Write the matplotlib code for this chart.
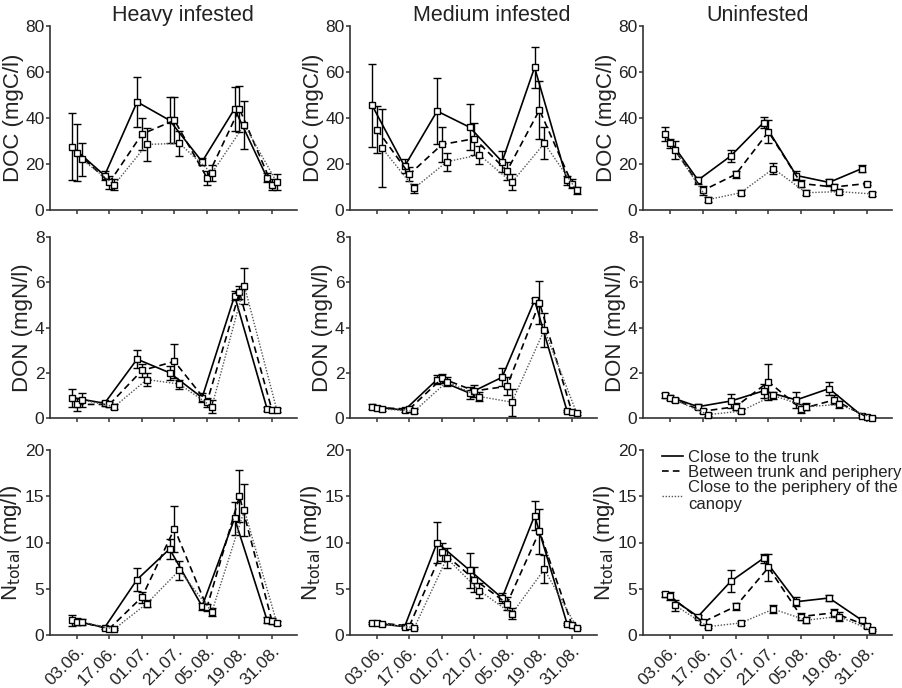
import numpy as np
import matplotlib.pyplot as plt
from matplotlib.lines import Line2D

plt.rcParams['font.family'] = ['Liberation Sans', 'DejaVu Sans']

dates = ["03.06.", "17.06.", "01.07.", "21.07.", "05.08.", "19.08.", "31.08."]
sites = ["Heavy infested", "Medium infested", "Uninfested"]
positions = ["Close to the trunk", "Between trunk and periphery",
             "Close to the periphery of the\ncanopy"]

# rows: trunk, between, periphery
heavy_doc = [[27.5, 15, 47, 39, 21, 44, 14],
             [25, 12, 33, 39, 14, 44, 11],
             [22, 11, 28.5, 29, 16, 37, 12]]
heavy_doc_err = [[14.5, 2, 11, 10, 1.5, 9.5, 2],
                 [12.5, 3, 7, 10, 3, 10, 2.5],
                 [7, 2.5, 7, 5.5, 3.5, 10.5, 3.5]]
medium_doc = [[45.5, 19, 43, 36, 21, 62, 13],
              [35, 15.5, 28.5, 31, 17, 43.5, 11.5],
              [27, 9.5, 21, 24, 12, 29, 8.5]]
medium_doc_err = [[18, 3, 14.5, 10, 4.5, 9, 2],
                  [10, 3, 7.5, 7, 4, 12.5, 2],
                  [17, 2, 4, 4, 3.5, 7, 1.5]]
unif_doc = [[33, 13, 23.5, 38, 15, 12, 18],
            [29, 8.5, 15.5, 34, 11.5, 10, 11.5],
            [26, 4.5, 7.5, 18, 7.5, 8, 7]]
unif_doc_err = [[3, 1.5, 2.5, 2.5, 2, 1.5, 1.5],
                [2, 2, 1.5, 5, 1.5, 1.5, 0.8],
                [4, 1, 1, 2.5, 1, 1, 0.8]]

heavy_don = [[0.9, 0.65, 2.6, 2.0, 0.9, 5.4, 0.4],
             [0.6, 0.6, 2.1, 2.5, 0.7, 5.55, 0.35],
             [0.8, 0.5, 1.7, 1.5, 0.5, 5.85, 0.35]]
heavy_don_err = [[0.4, 0.1, 0.4, 0.3, 0.2, 0.2, 0.1],
                 [0.3, 0.1, 0.3, 0.75, 0.2, 0.3, 0.1],
                 [0.3, 0.1, 0.3, 0.2, 0.3, 0.8, 0.1]]
medium_don = [[0.5, 0.35, 1.7, 1.1, 1.8, 5.2, 0.3],
              [0.45, 0.4, 1.75, 1.2, 1.4, 5.1, 0.25],
              [0.4, 0.3, 1.6, 0.95, 0.7, 3.9, 0.2]]
medium_don_err = [[0.1, 0.1, 0.2, 0.25, 0.4, 0.1, 0.05],
                  [0.1, 0.1, 0.2, 0.25, 0.4, 0.95, 0.05],
                  [0.1, 0.1, 0.2, 0.2, 0.6, 0.75, 0.05]]
unif_don = [[1.0, 0.5, 0.75, 1.2, 0.8, 1.3, 0.1],
            [0.9, 0.3, 0.5, 1.6, 0.4, 0.8, 0.05],
            [0.8, 0.15, 0.3, 1.0, 0.5, 0.6, 0.02]]
unif_don_err = [[0.1, 0.1, 0.3, 0.3, 0.35, 0.3, 0.05],
                [0.1, 0.1, 0.15, 0.8, 0.2, 0.2, 0.05],
                [0.1, 0.05, 0.1, 0.15, 0.15, 0.15, 0.02]]

heavy_nt = [[1.6, 0.8, 6.0, 9.3, 3.1, 12.6, 1.6],
            [1.45, 0.7, 4.1, 11.5, 3.0, 15.0, 1.5],
            [1.4, 0.65, 3.4, 7.0, 2.5, 13.5, 1.3]]
heavy_nt_err = [[0.6, 0.1, 1.2, 1.1, 0.4, 1.8, 0.3],
                [0.4, 0.1, 0.6, 2.5, 0.4, 2.8, 0.3],
                [0.3, 0.1, 0.4, 1.0, 0.4, 2.8, 0.2]]
medium_nt = [[1.3, 0.9, 10.0, 7.0, 4.0, 12.9, 1.2],
             [1.3, 1.0, 9.0, 6.0, 3.4, 11.2, 1.1],
             [1.2, 0.8, 8.3, 4.8, 2.3, 7.1, 0.8]]
medium_nt_err = [[0.15, 0.1, 2.2, 1.9, 0.5, 1.6, 0.1],
                 [0.15, 0.2, 1.0, 1.3, 0.7, 2.4, 0.1],
                 [0.1, 0.1, 1.1, 0.8, 0.6, 1.5, 0.1]]
unif_nt = [[4.4, 2.0, 5.8, 8.3, 3.6, 4.0, 1.6],
           [4.2, 1.4, 3.1, 7.3, 2.0, 2.4, 1.0],
           [3.2, 0.9, 1.3, 2.8, 1.6, 2.0, 0.5]]
unif_nt_err = [[0.3, 0.2, 1.2, 0.5, 0.5, 0.3, 0.2],
               [0.4, 0.2, 0.4, 1.5, 0.4, 0.4, 0.2],
               [0.6, 0.15, 0.2, 0.4, 0.3, 0.5, 0.1]]

panels = [[(heavy_doc, heavy_doc_err), (medium_doc, medium_doc_err), (unif_doc, unif_doc_err)],
          [(heavy_don, heavy_don_err), (medium_don, medium_don_err), (unif_don, unif_don_err)],
          [(heavy_nt, heavy_nt_err), (medium_nt, medium_nt_err), (unif_nt, unif_nt_err)]]
ylabels = ["DOC (mgC/l)", "DON (mgN/l)", r"N$_{\mathrm{total}}$ (mg/l)"]
yticks = [[0, 20, 40, 60, 80], [0, 2, 4, 6, 8], [0, 5, 10, 15, 20]]

styles = [dict(ls="-", color="black", lw=1.2),
          dict(ls=(0, (4, 2.5)), color="black", lw=1.2),
          dict(ls=(0, (1, 1.2)), color="#555555", lw=1.0)]
offsets = [-0.15, 0.0, 0.15]

W, H = 902, 688
col_l = [50, 350, 643]
col_r = [297, 597, 892]
row_t = [26, 237, 450]
row_b = [210, 418, 635]
title_x = [0.54, 0.575, 0.46]

fig = plt.figure(figsize=(W / 100, H / 100), dpi=100)
text_color = "#222222"

for r in range(3):
    for c in range(3):
        ax = fig.add_axes([col_l[c] / W, 1 - row_b[r] / H,
                           (col_r[c] - col_l[c]) / W, (row_b[r] - row_t[r]) / H])
        vals, errs = panels[r][c]
        x = np.arange(len(dates))
        for k in range(3):
            xs = x + offsets[k]
            ax.errorbar(xs, vals[k], yerr=errs[k], fmt="none", ecolor="black",
                        elinewidth=1.0, capsize=3, capthick=1.0, clip_on=False, zorder=2)
            ax.plot(xs, vals[k], marker="s", ms=5, mfc="white", mec="black",
                    mew=1.0, clip_on=False, zorder=3, **styles[k])
        ax.set_xlim(-0.83, 6.77)
        ax.set_ylim(0, yticks[r][-1])
        ax.set_yticks(yticks[r])
        ax.set_xticks(x)
        if r == 2:
            ax.set_xticklabels(dates, rotation=45, ha="right", va="top",
                               rotation_mode="anchor", fontsize=12, color=text_color)
        else:
            ax.set_xticklabels([])
        for s in ("top", "right"):
            ax.spines[s].set_visible(False)
        for s in ("left", "bottom"):
            ax.spines[s].set_linewidth(1.2)
            ax.spines[s].set_color("#333333")
        ax.tick_params(axis="both", direction="out", length=3, width=1.1,
                       colors="#333333", labelsize=12.5, labelcolor=text_color, pad=1)
        ax.tick_params(axis="x", pad=3)
        ax.set_ylabel(ylabels[r], fontsize=16, color=text_color, labelpad=1)
        if r == 0:
            ax.set_title(sites[c], fontsize=15.5, color=text_color, x=title_x[c], pad=2)
        if r == 2 and c == 2:
            handles = [Line2D([], [], **styles[k]) for k in range(3)]
            ax.legend(handles, positions, loc="upper left", bbox_to_anchor=(0.076, 1.0),
                      frameon=False, fontsize=12, handlelength=1.25, handletextpad=0.3,
                      labelspacing=0.0, borderpad=0, borderaxespad=0,
                      labelcolor=text_color)

fig.savefig("out.png", dpi=100)
